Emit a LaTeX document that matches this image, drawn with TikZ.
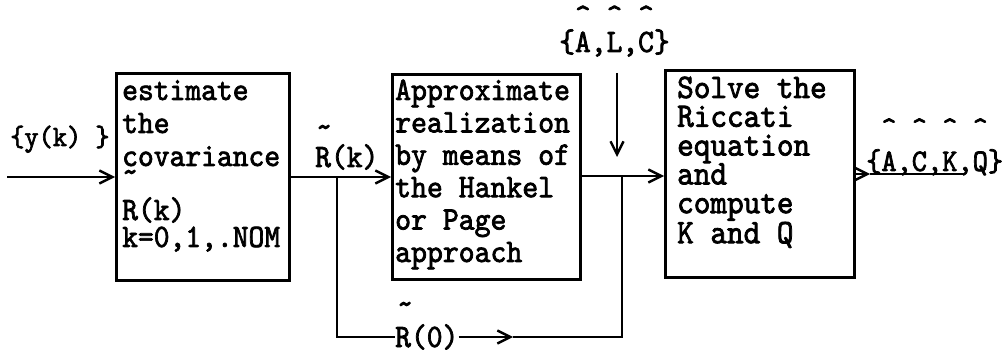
\documentclass[tikz,border=0pt]{standalone}
\usepackage{fontspec}
\newfontfamily\tw[FakeBold=2.2,FakeStretch=0.92]{lmmono10-regular.otf}
\usetikzlibrary{arrows.meta}
\tikzset{
  box/.style={draw, line width=2.8pt, inner sep=0pt, anchor=north west},
  conn/.style={line width=2.4pt},
  arr/.style={conn, -{Straight Barb[length=13pt,width=13pt,line width=2.4pt]}},
  txt/.style={inner sep=0pt, anchor=base west, font=\tw\fontsize{32.7}{33}\selectfont},
}
\begin{document}
\begin{tikzpicture}[x=1pt,y=-1pt]
\useasboundingbox (0,0) rectangle (1007,350);
% boxes
\node[box, minimum width=173pt, minimum height=207pt] (b1) at (115,72) {};
\node[box, minimum width=188pt, minimum height=205pt] (b2) at (391,73) {};
\node[box, minimum width=189pt, minimum height=207pt] (b3) at (664,69) {};
% box texts
\node[txt] (t1) at (122,100) {\parbox[t]{170pt}{estimate\\the\\covariance\\[-17pt]\textasciitilde\\[5pt]R(k)\\[-6pt]k=0,1,.NOM}};
\node[txt, font=\tw\fontsize{32.9}{32.4}\selectfont] (t2) at (395,100) {\parbox[t]{185pt}{Approximate\\realization\\by means of\\the Hankel\\or Page\\approach}};
\node[txt, font=\tw\fontsize{34.4}{28.8}\selectfont] (t3) at (677,98) {\parbox[t]{185pt}{Solve the\\Riccati\\equation\\and\\compute\\K and Q}};
% labels
\node[txt, font=\tw\fontsize{29.4}{30}\selectfont] (yk) at (10,146) {\{y(k) \}};
\node[txt] (rk) at (315,167) {R(k)};
\node[txt] (rkt) at (316,137) {\textasciitilde};
\node[txt, anchor=west] (r0) at (395,337) {R(0)};
\node[txt] (r0t) at (397,314) {\textasciitilde};
\node[txt] (alc) at (559,52) {\{A,L,C\}};
\node[txt] (alch) at (559,26) {\ \textasciicircum\ \textasciicircum\ \textasciicircum};
\node[txt, font=\tw\fontsize{31.5}{32}\selectfont] (ackq) at (866,171) {\{A,C,K,Q\}};
\node[txt, font=\tw\fontsize{31.5}{32}\selectfont] (ackqh) at (866,138) {\ \textasciicircum\ \textasciicircum\ \textasciicircum\ \textasciicircum};
% connectors
\coordinate (in) at (7,177);
\draw[arr] (in) -- (in -| b1.west);
\draw[arr] (in -| b1.east) -- (in -| b2.west);
\coordinate (br) at (337,177);
\draw[conn] (br) |- (r0.west);
\coordinate (tip0) at (513,337);
\draw[arr] (r0.east) -- (tip0);
\coordinate (jn) at (622,176);
\draw[conn] (tip0) -| (jn);
\draw[arr] (jn -| b2.east) -- (jn -| b3.west);
\coordinate (d1) at (617,73);
\coordinate (d2) at (617,157);
\draw[arr] (d1) -- (d2);
\coordinate (tip1) at (870,174);
\coordinate (oend) at (965,174);
\draw[arr] (tip1 -| b3.east) -- (tip1);
\draw[conn] (tip1) -- (oend);
\end{tikzpicture}
\end{document}
